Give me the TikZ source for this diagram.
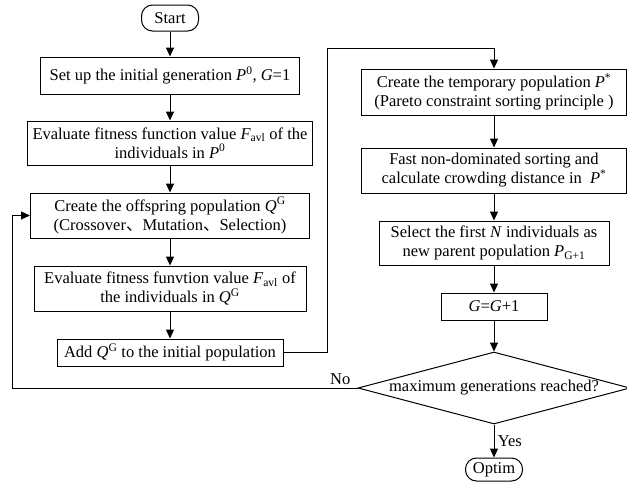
\documentclass[tikz,border=0pt]{standalone}
\usepackage{fontspec}
\setmainfont{Liberation Serif}
\newfontfamily\cjk{Noto Sans CJK SC}
\usepackage{tikz}
\usetikzlibrary{shapes,arrows.meta}
\tikzset{stepbox/.style={rectangle, draw, align=center, inner sep=2pt},
  flow/.style={-{Triangle[length=9pt,width=8pt]}}}
\newcommand{\gaterminal}[4] {\node at (#1) (#2) [rectangle, draw, rounded corners=11pt, minimum width=57pt, minimum height=#3] {#4};}
\newcommand{\gastep}[4] {\node at (#1) (#2) [stepbox, #3] {#4};}
\newcommand{\gadecision}[3] {\node at (#1) (#2) [diamond, draw, shape aspect=3.78, inner sep=0pt, minimum width=272pt, minimum height=72pt] {#3};}
\newcommand{\gadown}[2] {\draw [flow] (#1) -- (#2);}

\begin{document}
\begin{tikzpicture}[x=1pt, y=-1pt, line width=1pt, font=\fontsize{16.5}{19}\selectfont]
\useasboundingbox (0,0) rectangle (627,485);
\gaterminal{170,18}{start}{26pt}{Start}
\gastep{170,75.5}{init}{minimum width=259pt, minimum height=37pt}{Set up the initial generation \textit{P}\textsuperscript{0}, \textit{G}=1}
\gastep{170,143}{evalp}{minimum width=285pt, minimum height=44pt}{Evaluate fitness function value \textit{F}\textsubscript{avl} of the\\individuals in \textit{P}\textsuperscript{0}}
\gastep{170,215.5}{offspring}{minimum width=279pt, minimum height=45pt}{Create the offspring population \textit{Q}\textsuperscript{G}\\(Crossover{\cjk 、}Mutation{\cjk 、}Selection)}
\gastep{170,288.5}{evalq}{minimum width=272pt, minimum height=45pt}{Evaluate fitness funvtion value \textit{F}\textsubscript{avl} of\\the individuals in \textit{Q}\textsuperscript{G}}
\gastep{170,352.5}{add}{minimum width=226pt, minimum height=27pt}{Add \textit{Q}\textsuperscript{G} to the initial population}
\gastep{494,92}{temp}{minimum width=265pt, minimum height=46pt}{Create the temporary population \textit{P}\textsuperscript{*}\\(Pareto constraint sorting principle )}
\gastep{494,170.5}{sort}{minimum width=265pt, minimum height=45pt}{Fast non-dominated sorting and\\calculate crowding distance in\ \ \textit{P}\textsuperscript{*}}
\gastep{494,243}{select}{minimum width=230pt, minimum height=44pt}{Select the first \textit{N} individuals as\\new parent population \textit{P}\textsubscript{G+1}}
\gastep{494,306.5}{incr}{minimum width=106pt, minimum height=27pt}{\textit{G}=\textit{G}+1}
\gadecision{494,388}{check}{maximum generations reached?}
\gaterminal{494,469.5}{optim}{23pt}{Optim}
\coordinate (up) at (327,48);
\coordinate (back) at (12,388);
\gadown{start}{init}
\gadown{init}{evalp}
\gadown{evalp}{offspring}
\gadown{offspring}{evalq}
\gadown{evalq}{add}
\draw [flow] (add.east) -| (up) -| (temp.north);
\gadown{temp}{sort}
\gadown{sort}{select}
\gadown{select}{incr}
\gadown{incr}{check}
\draw [flow] (check.west) -- node [pos=0.05, above] {No} (back) |- (offspring.west);
\draw [flow] (check.south) -- node [right] {Yes} (optim.north);
\end{tikzpicture}
\end{document}
